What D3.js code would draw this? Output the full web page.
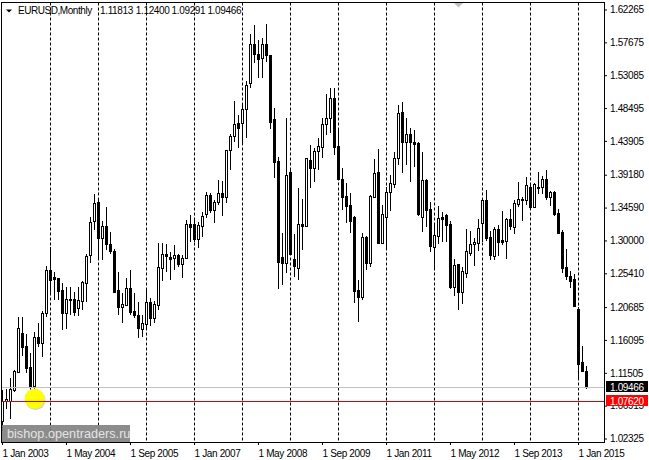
<!DOCTYPE html>
<html>
<head>
<meta charset="utf-8">
<script src="https://d3js.org/d3.v7.min.js"></script>
<style>
html,body {margin:0; padding:0; background:#fff;}
svg {display:block;}
text {font-family:"Liberation Sans",Arial,sans-serif; font-size:10px; fill:#000;}
.axis text {letter-spacing:-0.35px;}
</style>
</head>
<body>
<svg id=chart width=649 height=460></svg>
<script>
// EURUSD monthly, one entry per month from Jan 2003 to Mar 2015
var opens=[1.0477,1.0763,1.0760,1.0910,1.1166,1.1706,1.1525,1.1231,1.0966,1.1650,1.1571,1.1986,
	1.2587,1.2489,1.2475,1.2307,1.1986,1.2167,1.2181,1.2056,1.2158,1.2409,1.2796,1.3275,
	1.3541,1.3034,1.3201,1.2950,1.2852,1.2307,1.2074,1.2102,1.2335,1.2014,1.1962,1.1766,
	1.1832,1.2139,1.1916,1.2102,1.2614,1.2810,1.2772,1.2754,1.2796,1.2670,1.2754,1.3229,
	1.3229,1.3020,1.3201,1.3369,1.3634,1.3425,1.3537,1.3662,1.3611,1.4263,1.4459,1.4640,
	1.4645,1.4836,1.5199,1.5744,1.5605,1.5549,1.5744,1.5591,1.4696,1.4110,1.2768,1.2684,
	1.3956,1.2740,1.2614,1.3229,1.3201,1.4123,1.4016,1.4253,1.4309,1.4626,1.4714,1.4990,
	1.4319,1.3858,1.3621,1.3495,1.3327,1.2307,1.2214,1.3048,1.2684,1.3611,1.3956,1.2968,
	1.3331,1.3676,1.3792,1.4156,1.4794,1.4379,1.4487,1.4375,1.4365,1.3331,1.3844,1.3439,
	1.2912,1.3066,1.3327,1.3355,1.3229,1.2353,1.2670,1.2283,1.2549,1.2828,1.2950,1.2968,
	1.3247,1.3565,1.3048,1.2786,1.3159,1.3006,1.2996,1.3299,1.3191,1.3513,1.3575,1.3565,
	1.3746,1.3471,1.3750,1.3750,1.3858,1.3611,1.3676,1.3383,1.3117,1.2628,1.2503,1.2461,
	1.2042,1.1301,1.1181];
var highs=[1.0910,1.0928,1.1078,1.1189,1.1930,1.1930,1.1692,1.1427,1.1720,1.1850,1.2014,1.2642,
	1.2908,1.2559,1.2475,1.2409,1.2349,1.2349,1.2279,1.2349,1.2433,1.2810,1.3331,1.3648,
	1.3593,1.3271,1.3471,1.3117,1.2880,1.2559,1.2265,1.2475,1.2587,1.2265,1.2139,1.1958,
	1.2307,1.2195,1.2153,1.2964,1.2964,1.2950,1.2842,1.2936,1.2810,1.2796,1.3285,1.3355,
	1.3299,1.3257,1.3401,1.3681,1.3667,1.3565,1.3844,1.3834,1.4263,1.4487,1.4948,1.4752,
	1.4920,1.5227,1.5884,1.6010,1.5800,1.5828,1.6024,1.5591,1.4850,1.4170,1.3104,1.4714,
	1.4012,1.3090,1.3732,1.3579,1.4151,1.4333,1.4291,1.4431,1.4710,1.5046,1.5129,1.5129,
	1.4571,1.4012,1.3806,1.3667,1.3341,1.2447,1.3104,1.3062,1.3634,1.4137,1.4277,1.3495,
	1.3750,1.3914,1.4235,1.4892,1.4934,1.4710,1.4571,1.4543,1.4379,1.4235,1.3858,1.3541,
	1.3215,1.3481,1.3401,1.3369,1.3271,1.2740,1.2670,1.2633,1.3159,1.3131,1.3034,1.3299,
	1.3593,1.3704,1.3136,1.3191,1.3215,1.3411,1.3317,1.3439,1.3565,1.3816,1.3611,1.3886,
	1.3802,1.3806,1.3956,1.3900,1.3984,1.3690,1.3690,1.3439,1.3145,1.2880,1.2577,1.2531,
	1.2070,1.1525,1.1240];
var lows=[1.0337,1.0644,1.0505,1.0886,1.1147,1.1385,1.1147,1.0784,1.0784,1.1511,1.1371,1.1930,
	1.2269,1.2167,1.2167,1.1748,1.1762,1.1958,1.1944,1.1944,1.2028,1.2139,1.2684,1.3145,
	1.2726,1.2726,1.2866,1.2810,1.2265,1.1958,1.1850,1.2098,1.1958,1.1916,1.1636,1.1650,
	1.1762,1.1804,1.1846,1.2028,1.2437,1.2563,1.2447,1.2587,1.2628,1.2475,1.2740,1.2978,
	1.2978,1.2894,1.3052,1.3313,1.3383,1.3243,1.3495,1.3341,1.3527,1.3984,1.4379,1.4295,
	1.4361,1.4431,1.5129,1.5483,1.5269,1.5269,1.5497,1.4557,1.3872,1.2321,1.2377,1.2545,
	1.2796,1.2493,1.2447,1.2866,1.3191,1.3732,1.3820,1.3984,1.4151,1.4473,1.4501,1.4193,
	1.3844,1.3425,1.3247,1.3104,1.2130,1.1864,1.2167,1.2587,1.2633,1.3597,1.2950,1.2950,
	1.2866,1.3415,1.3732,1.4054,1.3946,1.4054,1.3820,1.4030,1.3341,1.3122,1.3191,1.2842,
	1.2614,1.2950,1.2982,1.2982,1.2321,1.2223,1.2028,1.2112,1.2479,1.2786,1.2647,1.2856,
	1.2982,1.2992,1.2726,1.2726,1.2786,1.2936,1.2740,1.3145,1.3090,1.3467,1.3275,1.3495,
	1.3443,1.3457,1.3648,1.3648,1.3565,1.3485,1.3345,1.3104,1.2545,1.2447,1.2339,1.2084,
	1.1082,1.1166,1.0929];
var closes=[1.0760,1.0791,1.0924,1.1175,1.1776,1.1515,1.1217,1.0966,1.1650,1.1571,1.1986,1.2587,
	1.2447,1.2465,1.2297,1.1986,1.2181,1.2181,1.2000,1.2167,1.2419,1.2782,1.3261,1.3523,
	1.3034,1.3201,1.2950,1.2856,1.2283,1.2074,1.2112,1.2335,1.2004,1.1958,1.1780,1.1846,
	1.2139,1.1916,1.2112,1.2628,1.2810,1.2782,1.2744,1.2796,1.2670,1.2754,1.3229,1.3187,
	1.3020,1.3215,1.3341,1.3634,1.3425,1.3537,1.3662,1.3611,1.4263,1.4459,1.4626,1.4575,
	1.4836,1.5171,1.5744,1.5605,1.5535,1.5744,1.5591,1.4659,1.4100,1.2703,1.2684,1.3914,
	1.2810,1.2647,1.3229,1.3201,1.4151,1.4016,1.4249,1.4319,1.4626,1.4710,1.4990,1.4309,
	1.3858,1.3611,1.3485,1.3275,1.2297,1.2214,1.3048,1.2684,1.3621,1.3942,1.2968,1.3369,
	1.3676,1.3802,1.4156,1.4784,1.4379,1.4487,1.4379,1.4351,1.3369,1.3844,1.3425,1.2926,
	1.3076,1.3313,1.3303,1.3219,1.2349,1.2656,1.2283,1.2573,1.2852,1.2950,1.2978,1.3173,
	1.3565,1.3038,1.2800,1.3159,1.2978,1.2978,1.3299,1.3201,1.3523,1.3579,1.3583,1.3774,
	1.3471,1.3788,1.3736,1.3858,1.3611,1.3676,1.3369,1.3108,1.2619,1.2507,1.2437,1.2088,
	1.1273,1.1175,1.0947];

var price_ticks=['1.62265','1.57675','1.53085','1.48495','1.43905','1.39180','1.34590','1.30000','1.25410','1.20685','1.16095','1.11505','1.06915','1.02325'];
var time_tick_index=[0,16,32,48,64,80,96,112,128,144];
var time_tick_labels=['1 Jan 2003','1 May 2004','1 Sep 2005','1 Jan 2007','1 May 2008','1 Sep 2009','1 Jan 2011','1 May 2012','1 Sep 2013','1 Jan 2015'];
var year_grid_index=[12,24,36,48,60,72,84,96,108,120,132,144];
var ohlc_header=['1.11813','1.12400','1.09291','1.09466'];
var bid_price=1.09466;
var level_price=1.0762;
var marker_index=8;

var W=649, H=460;
var marg_left=1.5, marg_top=2.5, right=604.5, bottom=442.5;

var svg=d3.select('#chart');
var xScale=d3.scaleLinear().domain([0,146]).range([2,586]);
var yScale=d3.scaleLinear().domain([1.02325,1.62265]).range([438.5,9.5]);

// grid goes first, candles sit on top of it
svg.append('g').selectAll('line').data(year_grid_index).enter().append('line')
	.attr('x1',function(d) {return xScale(d)+0.5;})
	.attr('x2',function(d) {return xScale(d)+0.5;})
	.attr('y1',marg_top).attr('y2',bottom)
	.attr('stroke','#000').attr('stroke-dasharray','3,2');

var data=opens.map(function(o,i) {
	return {i:i,o:o,h:highs[i],l:lows[i],c:closes[i]};
});
var bar=svg.append('g').selectAll('g').data(data).enter().append('g');
bar.append('line')
	.attr('x1',function(d) {return xScale(d.i)+0.5;})
	.attr('x2',function(d) {return xScale(d.i)+0.5;})
	.attr('y1',function(d) {return Math.round(yScale(d.h));})
	.attr('y2',function(d) {return Math.round(yScale(d.l));})
	.attr('stroke','#000');
bar.append('rect')
	.attr('x',function(d) {return xScale(d.i)-0.5;})
	.attr('width',2)
	.attr('y',function(d) {return Math.round(yScale(Math.max(d.o,d.c)))+0.5;})
	.attr('height',function(d) {return Math.max(1,Math.round(yScale(Math.min(d.o,d.c)))-Math.round(yScale(Math.max(d.o,d.c))));})
	.attr('fill',function(d) {return d.c>=d.o ? '#fff' : '#000';})
	.attr('stroke','#000')
	.attr('shape-rendering','crispEdges');

// yellow mouse marker with a soft shadow
var mark_x=xScale(marker_index)+0.5, mark_y=yScale(level_price)-2;
svg.append('circle').attr('cx',mark_x+1).attr('cy',mark_y+1.5).attr('r',10).attr('fill','#aaa').attr('opacity',0.5);
svg.append('circle').attr('cx',mark_x).attr('cy',mark_y).attr('r',10).attr('fill','#ffff00');

// price lines
svg.append('line').attr('x1',marg_left).attr('x2',right)
	.attr('y1',Math.round(yScale(bid_price))+0.5).attr('y2',Math.round(yScale(bid_price))+0.5)
	.attr('stroke','#c0c0c0');
svg.append('line').attr('x1',marg_left).attr('x2',right)
	.attr('y1',Math.round(yScale(level_price))+0.5).attr('y2',Math.round(yScale(level_price))+0.5)
	.attr('stroke','#e00000');

// frame
svg.append('rect').attr('x',marg_left).attr('y',marg_top).attr('width',right-marg_left).attr('height',bottom-marg_top)
	.attr('fill','none').attr('stroke','#000');

// axes
var yAxis=d3.axisRight(yScale)
	.tickValues(price_ticks.map(Number))
	.tickFormat(function(d) {return d3.format('.5f')(d);})
	.tickSize(3).tickPadding(3);
var yg=svg.append('g').attr('class','axis').attr('transform','translate(604,0)').call(yAxis);
yg.select('.domain').remove();
yg.selectAll('text').attr('fill','#000');

var xAxis=d3.axisBottom(xScale)
	.tickValues(time_tick_index)
	.tickFormat(function(d,i) {return time_tick_labels[i];})
	.tickSize(3).tickPadding(5);
var xg=svg.append('g').attr('class','axis').attr('transform','translate(0,442)').call(xAxis);
xg.select('.domain').remove();
xg.selectAll('text').attr('text-anchor','start').attr('fill','#000');

// price tags over the axis
function price_tag(price,color) {
	var yy=Math.round(yScale(price));
	svg.append('rect').attr('x',606).attr('y',yy-6).attr('width',42).attr('height',11).attr('fill',color);
	svg.append('text').attr('x',610).attr('y',yy+3.5).style('fill','#fff').style('letter-spacing','-0.35px').text(d3.format('.5f')(price));
}
price_tag(bid_price,'#000');
price_tag(level_price,'#ff0000');

// header
svg.append('path').attr('d','M6,9.5 L12,9.5 L9,12.5 Z').attr('fill','#000');
svg.append('text').attr('x',18).attr('y',14).style('letter-spacing','-0.45px').text('EURUSD,Monthly');
svg.append('g').selectAll('text').data(ohlc_header).enter().append('text')
	.attr('x',function(d,i) {return 100+i*35.8;})
	.attr('y',14)
	.style('letter-spacing','-0.35px')
	.text(function(d) {return d;});

// shift arrow at the top of the chart
svg.append('path').attr('d','M454,3 L463,3 L458.5,7.5 Z').attr('fill','#c0c0c0');

// watermark
svg.append('rect').attr('x',2).attr('y',425).attr('width',128).attr('height',17).attr('fill','#808080').attr('opacity',0.9);
svg.append('text').attr('x',7).attr('y',438).style('font-size','12.7px').style('fill','#e4e4e4').text('bishop.opentraders.ru');
</script>
</body>
</html>
